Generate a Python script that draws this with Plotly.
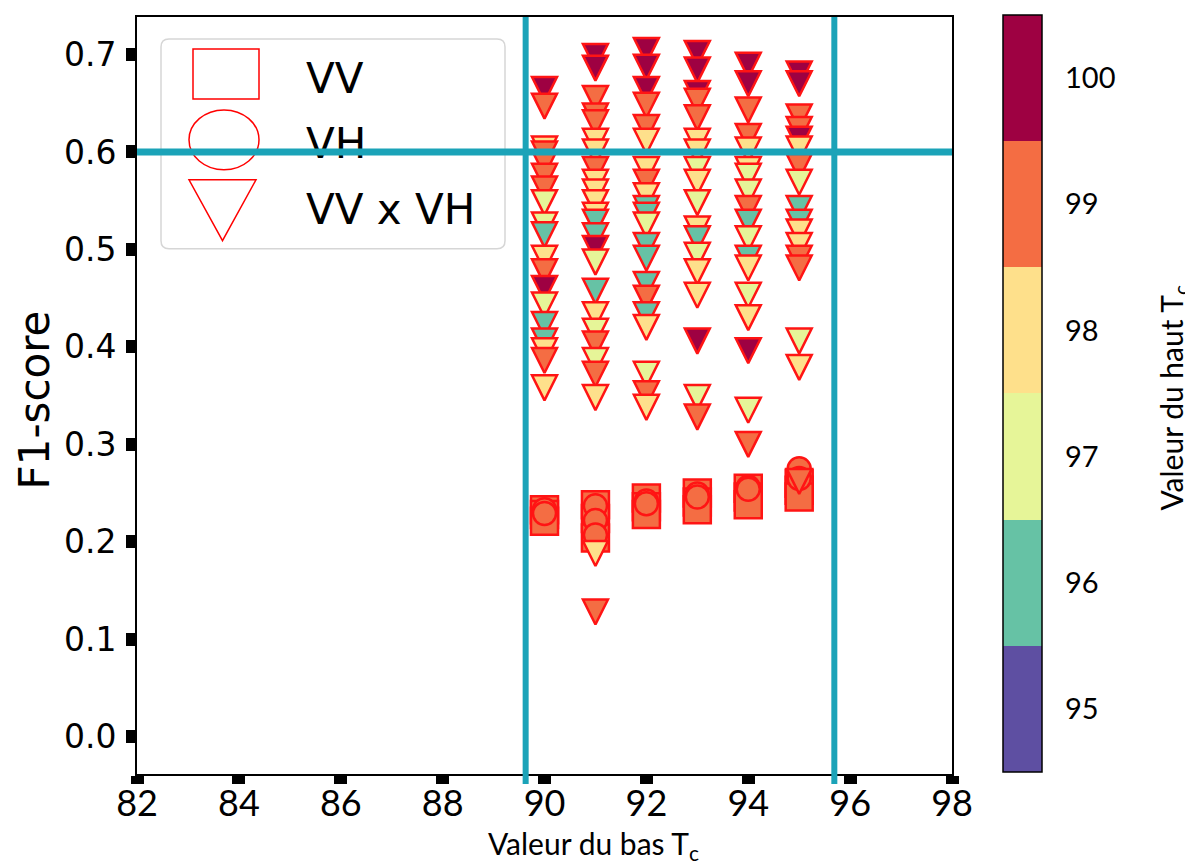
import plotly.graph_objects as go

# ---------------- data ----------------
# VV (squares)
vv_x = [90, 90, 90, 91, 91, 91, 92, 92, 92, 93, 93, 93, 94, 94, 94, 95, 95, 95]
vv_y = [0.233, 0.228, 0.221, 0.238, 0.224, 0.204, 0.245, 0.236, 0.228,
        0.250, 0.241, 0.233, 0.255, 0.246, 0.238, 0.260, 0.253, 0.246]
vv_top = [99] * 18

# VH (circles)
vh_x = [90, 90, 91, 91, 91, 92, 92, 93, 93, 94, 94, 95, 95]
vh_y = [0.233, 0.229, 0.237, 0.222, 0.207, 0.242, 0.239, 0.249, 0.246,
        0.256, 0.254, 0.275, 0.265]
vh_top = [99] * 13

# VV x VH (triangles), per column of "Valeur du bas"
tri_90_y = [0.664, 0.647, 0.603, 0.598, 0.589, 0.575, 0.562, 0.548, 0.525, 0.515,
            0.491, 0.477, 0.460, 0.443, 0.423, 0.406, 0.396, 0.386, 0.358]
tri_90_c = [100, 99, 98, 99, 99, 99, 99, 97, 97, 96, 98, 99, 100, 97, 96, 96, 98, 99, 98]
tri_91_y = [0.698, 0.686, 0.655, 0.637, 0.630, 0.611, 0.600, 0.582, 0.569, 0.559,
            0.548, 0.535, 0.528, 0.514, 0.501, 0.487, 0.457, 0.433, 0.416, 0.403,
            0.386, 0.372, 0.348, 0.188, 0.128]
tri_91_c = [100, 100, 99, 99, 99, 98, 98, 99, 98, 98, 98, 98, 96, 96, 100, 97, 96,
            98, 97, 99, 97, 99, 98, 98, 99]
tri_92_y = [0.704, 0.687, 0.664, 0.648, 0.625, 0.611, 0.582, 0.569, 0.555, 0.542,
            0.535, 0.525, 0.504, 0.491, 0.464, 0.450, 0.433, 0.420, 0.372, 0.352, 0.338]
tri_92_c = [100, 100, 100, 99, 99, 98, 98, 99, 98, 96, 96, 97, 96, 96, 96, 99, 96,
            98, 97, 99, 98]
tri_93_y = [0.701, 0.684, 0.660, 0.652, 0.635, 0.611, 0.600, 0.582, 0.569, 0.548,
            0.521, 0.511, 0.494, 0.477, 0.453, 0.406, 0.348, 0.328]
tri_93_c = [100, 100, 100, 99, 99, 98, 98, 97, 98, 97, 98, 96, 97, 98, 98, 100, 97, 99]
tri_94_y = [0.689, 0.670, 0.643, 0.616, 0.602, 0.582, 0.575, 0.559, 0.542, 0.528,
            0.511, 0.491, 0.481, 0.453, 0.430, 0.396, 0.335, 0.300]
tri_94_c = [100, 100, 99, 99, 98, 98, 97, 97, 99, 96, 97, 96, 98, 97, 98, 100, 97, 99]
tri_95_y = [0.680, 0.670, 0.636, 0.623, 0.613, 0.603, 0.585, 0.569, 0.542, 0.528,
            0.518, 0.504, 0.491, 0.481, 0.406, 0.379, 0.262]
tri_95_c = [100, 100, 99, 99, 100, 98, 99, 97, 96, 96, 98, 98, 99, 99, 97, 98, 99]

# annotation lines (threshold markers)
vline_x = [89.63, 95.69]
hline_y = 0.6

# axis ticks
x_ticks = [82, 84, 86, 88, 90, 92, 94, 96, 98]
y_ticks = [0.0, 0.1, 0.2, 0.3, 0.4, 0.5, 0.6, 0.7]
cb_ticks = [95, 96, 97, 98, 99, 100]
cb_colors = ["#5e4fa2", "#66c2a5", "#e6f598", "#fee08b", "#f46d43", "#9e0142"]
legend_labels = ["VV", "VH", "VV x VH"]

# --------------- build ----------------
tri_cols = [(90, tri_90_y, tri_90_c), (91, tri_91_y, tri_91_c), (92, tri_92_y, tri_92_c),
            (93, tri_93_y, tri_93_c), (94, tri_94_y, tri_94_c), (95, tri_95_y, tri_95_c)]
tri_x, tri_y, tri_top = [], [], []
for xv, ys, cs in tri_cols:
    tri_x += [xv] * len(ys)
    tri_y += ys
    tri_top += cs

n = len(cb_colors)
colorscale = []
for i, c in enumerate(cb_colors):
    colorscale.append([i / n, c])
    colorscale.append([(i + 1) / n, c])

CMIN, CMAX = 94.5, 100.5
EDGE = dict(color="#ff1414", width=2.5)

# geometry (page has an 8px body margin)
W, H = 1185, 859
ML, MR, MT, MB = 129, 241, 8, 93
PW, PH = W - ML - MR, H - MT - MB
PLOT_L, PLOT_B = 137, 774   # page pixels of plot-area left / bottom


def px(x):
    return (x - PLOT_L) / PW


def py(y):
    return (PLOT_B - y) / PH


fig = go.Figure()
fig.add_trace(go.Scatter(x=vv_x, y=vv_y, mode="markers", name="VV", showlegend=False,
                         marker=dict(symbol="square", size=27, color=vv_top, colorscale=colorscale,
                                     cmin=CMIN, cmax=CMAX, line=EDGE)))
fig.add_trace(go.Scatter(x=vh_x, y=vh_y, mode="markers", name="VH", showlegend=False,
                         marker=dict(symbol="circle", size=23, color=vh_top, colorscale=colorscale,
                                     cmin=CMIN, cmax=CMAX, line=EDGE)))
fig.add_trace(go.Scatter(
    x=tri_x, y=tri_y, mode="markers", name="VV x VH", showlegend=False,
    marker=dict(symbol="arrow-down", angle=0, standoff=12.5, size=25,
                color=tri_top, colorscale=colorscale, cmin=CMIN, cmax=CMAX, line=EDGE,
                showscale=True,
                colorbar=dict(
                    x=px(1003), xanchor="left", xpad=0,
                    y=py(15), yanchor="top", ypad=0,
                    len=(772 - 15) / PH, lenmode="fraction",
                    thickness=39, thicknessmode="pixels",
                    outlinewidth=1.5, outlinecolor="black",
                    tickvals=cb_ticks, ticktext=[str(t) for t in cb_ticks],
                    ticks="outside", ticklen=17, tickcolor="rgba(0,0,0,0)",
                    tickfont=dict(family="Lato", size=29, color="black"),
                ))))

shapes = []
# legend box (rounded)
lx0, lx1, ly0, ly1, rr = 161, 505, 38, 248, 8
path = (f"M{px(lx0 + rr)},{py(ly0)} L{px(lx1 - rr)},{py(ly0)} Q{px(lx1)},{py(ly0)} {px(lx1)},{py(ly0 + rr)} "
        f"L{px(lx1)},{py(ly1 - rr)} Q{px(lx1)},{py(ly1)} {px(lx1 - rr)},{py(ly1)} "
        f"L{px(lx0 + rr)},{py(ly1)} Q{px(lx0)},{py(ly1)} {px(lx0)},{py(ly1 - rr)} "
        f"L{px(lx0)},{py(ly0 + rr)} Q{px(lx0)},{py(ly0)} {px(lx0 + rr)},{py(ly0)} Z")
shapes.append(dict(type="path", xref="paper", yref="paper", path=path,
                   fillcolor="rgba(255,255,255,0.8)", line=dict(color="#d6d6d6", width=1.5),
                   layer="above"))
shapes.append(dict(type="rect", xref="paper", yref="paper", x0=px(193), x1=px(259), y0=py(48), y1=py(98),
                   line=dict(color="red", width=1.5), layer="above"))
shapes.append(dict(type="circle", xref="paper", yref="paper", x0=px(189), x1=px(259), y0=py(109), y1=py(169),
                   line=dict(color="red", width=1.5), layer="above"))
shapes.append(dict(type="path", xref="paper", yref="paper",
                   path=f"M{px(189)},{py(179)} L{px(256)},{py(179)} L{px(222.5)},{py(240)} Z",
                   line=dict(color="red", width=1.5), layer="above"))
# legend texts as shape labels (so that the cyan lines can pass over them)
LEG_FONT = dict(family="DejaVu Sans", size=42, color="black")
for txt, yy in zip(legend_labels, [75, 140, 206]):
    shapes.append(dict(type="rect", xref="paper", yref="paper",
                       x0=px(303), x1=px(495), y0=py(yy + 20), y1=py(yy - 20),
                       line=dict(width=0), fillcolor="rgba(0,0,0,0)", layer="above",
                       label=dict(text=txt, font=LEG_FONT, textposition="middle left",
                                  padding=0)))
# cyan threshold lines
CYAN = "#1ba3b8"
for xv in vline_x:
    shapes.append(dict(type="line", xref="x", yref="paper", x0=xv, x1=xv, y0=py(784), y1=1,
                       line=dict(color=CYAN, width=6), layer="above"))
shapes.append(dict(type="line", xref="paper", yref="y", x0=0, x1=1, y0=hline_y, y1=hline_y,
                   line=dict(color=CYAN, width=7), layer="above"))

annotations = []
annotations.append(dict(text="F1-score", xref="paper", yref="paper", x=px(34), y=py(400),
                        textangle=-90, showarrow=False, xanchor="center", yanchor="middle",
                        font=dict(family="DejaVu Sans", size=42, color="black")))
annotations.append(dict(text="Valeur du bas T<sub>c</sub>", xref="paper", yref="paper",
                        x=px(593), y=py(845), showarrow=False, xanchor="center", yanchor="middle",
                        font=dict(family="Lato", size=30, color="black")))
annotations.append(dict(text="Valeur du haut T<sub>c</sub>", xref="paper", yref="paper",
                        x=px(1173), y=py(397), textangle=-90, showarrow=False,
                        xanchor="center", yanchor="middle",
                        font=dict(family="Lato", size=30, color="black")))

fig.update_layout(
    width=W, height=H,
    margin=dict(l=ML, r=MR, t=MT, b=MB),
    plot_bgcolor="white", paper_bgcolor="white",
    showlegend=False,
    shapes=shapes, annotations=annotations,
    xaxis=dict(range=[82, 98], tickvals=x_ticks, ticktext=[str(t) for t in x_ticks],
               ticks="outside", ticklen=8, tickwidth=13, tickcolor="black",
               showline=True, linewidth=2, linecolor="black", mirror=True,
               showgrid=False, zeroline=False, ticklabelstandoff=-11,
               tickfont=dict(family="Lato", size=36, color="black")),
    yaxis=dict(range=[-0.0382, 0.7385], tickvals=y_ticks, ticktext=[f"{t:.1f}" for t in y_ticks],
               ticks="outside", ticklen=9, tickwidth=13, tickcolor="black",
               showline=True, linewidth=2, linecolor="black", mirror=True,
               showgrid=False, zeroline=False, ticklabelstandoff=3,
               tickfont=dict(family="DejaVu Sans", size=33, color="black")),
)

fig.write_html("out.html")
